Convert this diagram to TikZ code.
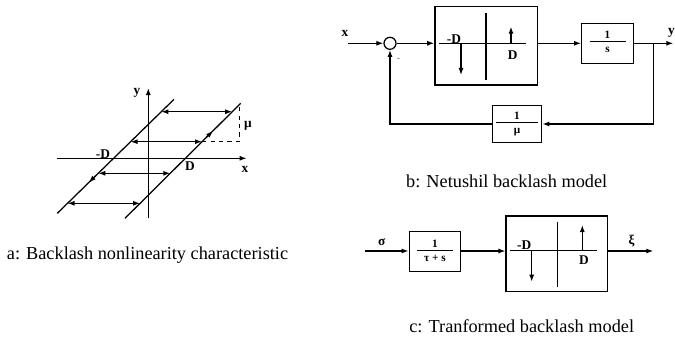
\documentclass[tikz,border=0pt]{standalone}
\usepackage{fontspec}
\setmainfont{Liberation Serif}
\usetikzlibrary{positioning, arrows.meta, calc}

% fraction with a long bar, as in the blocks
\newcommand{\blkfrac}[3]{\begin{tabular}{@{}c@{}}\makebox[#3]{#1}\\[-1pt]\hline\rule{0pt}{8pt}#2\end{tabular}}

\begin{document}
\begin{tikzpicture}[
    x=0.025cm, y=-0.025cm,
    line width=0.9pt,
    >={Latex[length=5pt,width=3.6pt]},
    every node/.style={font=\fontsize{9.5}{11}\selectfont\bfseries},
    block/.style={draw, inner sep=0pt, font=\fontsize{8}{9}\selectfont\bfseries},
    sumcirc/.style={draw, circle, minimum size=0.3cm, inner sep=0pt},
    caption/.style={font=\fontsize{13}{15}\selectfont}
  ]

  \useasboundingbox (0,0) rectangle (675,341);

  % ============================================================
  %  PANEL A -- backlash characteristic
  % ============================================================
  \coordinate (xl) at (56.7,158.3);
  \coordinate (xr) at (246.7,158.3);
  \coordinate (yb) at (148.3,218);
  \coordinate (yt) at (148.3,88);

  % axes
  \draw[->] (xl) -- (xr);
  \draw[->] (yb) -- (yt);
  \node (xlabA) at (245,169) {x};
  \node (ylabA) at (137,93) {y};

  % the two slopes
  \coordinate (L0) at (57.3,213.3);
  \coordinate (L1) at (174,99.3);
  \coordinate (R0) at (125,218.3);
  \coordinate (R1) at (240.7,103.3);
  \draw (L0) -- (L1);
  \draw (R0) -- (R1);

  % direction marks on the slopes
  \draw[->] ($(R0)!0.7!(R1)$) -- ($(R0)!0.76!(R1)$);
  \draw[->] ($(L0)!0.33!(L1)$) -- ($(L0)!0.27!(L1)$);

  % horizontal travel (double arrows)
  \draw[<->] (161.3,111.7) -- (232.2,111.7);
  \draw[<->] (130.6,141.7) -- (202.1,141.7);
  \draw[<->] (98.3,173.3) -- (170.3,173.3);
  \draw[<->] (67.5,203.3) -- (140.1,203.3);

  % slope triangle
  \draw[dashed, line width=0.6pt] (202.1,141.7) -- (239.3,141.7) -- (239.3,105);
  \node (muA) at (248,126) {μ};

  \node (mDA) at (103,154) {-D};
  \node (pDA) at (190,166.5) {D};

  \node[caption] (capA) at (147.5,255) {a: Backlash nonlinearity characteristic};

  % ============================================================
  %  PANEL B -- Netushil backlash model
  % ============================================================
  \coordinate (xin) at (348.3,43.3);
  \node (xlabB) at (345,33.5) {x};
  \node[sumcirc] (sum) at (390,43.3) {};
  \node[font=\tiny] (minus) at (398.5,60) {-};

  \node[block, minimum width=2.57cm, minimum height=1.96cm] (bl1) at (486.3,45.8) {};
  \node[block, minimum width=1.29cm, minimum height=1cm] (int) at (607.5,43.3)
    {\blkfrac{1}{s}{0.9cm}};
  \node[block, minimum width=1.235cm, minimum height=0.92cm] (gain) at (517,124)
    {\blkfrac{1}{μ}{1.04cm}};

  \coordinate (branch) at (653.3,43.3);
  \coordinate (yout) at (673.3,43.3);
  \node (ylabB) at (671.5,33) {y};

  \draw[->] (xin) -- (sum);
  \draw[->] (sum) -- (sum -| bl1.west);
  \draw[->] (sum -| bl1.east) -- (int);
  \draw[->] (int) -- (yout);
  \draw[->] (branch) |- (gain);
  \draw[->] (gain) -| (sum);

  % symbol inside the block
  \begin{scope}[shift={(486,43.3)}]
    \draw (-46.7,0) -- (40,0);
    \draw (0,-30) -- (0,36.7);
    \draw[->] (-25,0) -- (-25,31.7);
    \draw[->] (25,0) -- (25,-16.7);
    \node (mDB) at (-32,-4.5) {-D};
    \node (pDB) at (26.7,11.7) {D};
  \end{scope}

  \node[caption] (capB) at (506.7,181) {b: Netushil backlash model};

  % ============================================================
  %  PANEL C -- transformed backlash model
  % ============================================================
  \coordinate (sigin) at (365,251);
  \node (siglab) at (381.7,242.5) {σ};
  \node[block, minimum width=1.285cm, minimum height=1cm] (filt) at (435,251.7)
    {\blkfrac{1}{τ + s}{0.92cm}};
  \node[block, minimum width=2.54cm, minimum height=1.89cm] (bl2) at (556.9,253.9) {};
  \coordinate (xiout) at (653.3,251);
  \node (xilab) at (631.7,241.5) {ξ};

  \draw[->] (sigin) -- (sigin -| filt.west);
  \draw[->] (sigin -| filt.east) -- (sigin -| bl2.west);
  \draw[->] (sigin -| bl2.east) -- (xiout);

  % symbol inside the block
  \begin{scope}[shift={(557.7,250.3)}]
    \draw (-47.7,0) -- (39,0);
    \draw (0,-28.6) -- (0,36.4);
    \draw[->] (-26,0) -- (-26,31.4);
    \draw[->] (24.6,0) -- (24.6,-25.3);
    \node (mDC) at (-33.5,-5.5) {-D};
    \node (pDC) at (26.3,9.7) {D};
  \end{scope}

  \node[caption] (capC) at (521.7,326.5) {c: Tranformed backlash model};

\end{tikzpicture}
\end{document}
